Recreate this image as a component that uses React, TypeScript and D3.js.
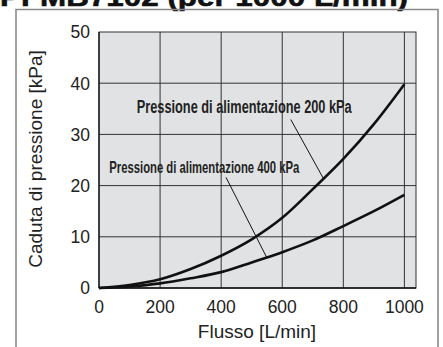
import React from "react";
import * as d3 from "d3";

const flow = [0, 100, 200, 300, 400, 500, 600, 700, 800, 900, 1000];
const drop200 = [0, 0.6, 1.7, 3.7, 6.3, 9.5, 13.7, 19.3, 25.2, 32, 39.8];
const drop400 = [0, 0.3, 0.9, 1.9, 3.1, 5.0, 7.0, 9.3, 12.1, 15, 18.2];
const xTicks = [0, 200, 400, 600, 800, 1000];
const yTicks = [0, 10, 20, 30, 40, 50];
const title = "PFMB7102 (per 1000 L/min)";
const xTitle = "Flusso [L/min]";
const yTitle = "Caduta di pressione [kPa]";
const label200 = "Pressione di alimentazione 200 kPa";
const label400 = "Pressione di alimentazione 400 kPa";

const W = 443;
const H = 347;
const FONT = "'Liberation Sans', Arial, Helvetica, sans-serif";

export default function App() {
  const x = d3.scaleLinear().domain([0, 1038]).range([99, 416]);
  const y = d3.scaleLinear().domain([0, 50]).range([288, 32]);
  const line = d3
    .line<number>()
    .x((_, i) => x(flow[i]))
    .y((d) => y(d))
    .curve(d3.curveMonotoneX);

  const interp = (arr: number[], f: number) => {
    const i = Math.min(Math.floor(f / 100), flow.length - 2);
    const t = (f - flow[i]) / 100;
    return arr[i] + (arr[i + 1] - arr[i]) * t;
  };

  return (
    <svg
      width={W}
      height={H}
      style={{ position: "absolute", left: 0, top: 0, background: "#fff" }}
    >
      <text
        x={0}
        y={6}
        fontFamily={FONT}
        fontWeight="bold"
        fontSize={26}
        textLength={408}
        lengthAdjust="spacingAndGlyphs"
        fill="#111"
        stroke="#111"
        strokeWidth={0.6}
      >
        {title}
      </text>
      <path
        d={`M16,${H} V9.5 H438 V${H}`}
        fill="none"
        stroke="#8a8a8a"
        strokeWidth={1.6}
      />
      <rect
        x={x(0)}
        y={y(50)}
        width={x(1038) - x(0)}
        height={y(0) - y(50)}
        fill="#e1e2e4"
      />
      {xTicks.slice(1).map((t) => (
        <line
          key={"gx" + t}
          x1={x(t)}
          x2={x(t)}
          y1={y(0)}
          y2={y(50)}
          stroke="#333"
          strokeWidth={1}
        />
      ))}
      {yTicks.slice(1, -1).map((t) => (
        <line
          key={"gy" + t}
          x1={x(0)}
          x2={x(1038)}
          y1={y(t)}
          y2={y(t)}
          stroke="#333"
          strokeWidth={1}
        />
      ))}
      <rect
        x={x(0)}
        y={y(50)}
        width={x(1038) - x(0)}
        height={y(0) - y(50)}
        fill="none"
        stroke="#333"
        strokeWidth={1}
      />
      <line x1={x(0)} x2={x(1038)} y1={y(0)} y2={y(0)} stroke="#111" strokeWidth={1.5} />
      <line x1={x(0)} x2={x(0)} y1={y(0)} y2={y(50)} stroke="#111" strokeWidth={1.3} />

      <path d={line(drop200) || ""} fill="none" stroke="#111" strokeWidth={2.6} />
      <path d={line(drop400) || ""} fill="none" stroke="#111" strokeWidth={2.6} />

      <line
        x1={x(628)}
        y1={y(32.9)}
        x2={x(735)}
        y2={y(interp(drop200, 735))}
        stroke="#111"
        strokeWidth={1}
      />
      <line
        x1={x(416)}
        y1={y(21.6)}
        x2={x(549)}
        y2={y(interp(drop400, 549))}
        stroke="#111"
        strokeWidth={1}
      />
      <text
        x={x(123.5)}
        y={y(34.2)}
        fontFamily={FONT}
        fontWeight="bold"
        fontSize={18}
        textLength={215}
        lengthAdjust="spacingAndGlyphs"
        fill="#222"
      >
        {label200}
      </text>
      <text
        x={x(33.7)}
        y={y(22.5)}
        fontFamily={FONT}
        fontWeight="bold"
        fontSize={17}
        textLength={190}
        lengthAdjust="spacingAndGlyphs"
        fill="#222"
      >
        {label400}
      </text>

      {yTicks.map((t) => (
        <text
          key={"ty" + t}
          x={90}
          y={y(t)}
          dy="0.36em"
          textAnchor="end"
          fontFamily={FONT}
          fontSize={17.5}
          fill="#222"
        >
          {t}
        </text>
      ))}
      {xTicks.map((t) => (
        <text
          key={"tx" + t}
          x={x(t)}
          y={313}
          textAnchor="middle"
          fontFamily={FONT}
          fontSize={17.5}
          fill="#222"
        >
          {t}
        </text>
      ))}
      <text
        x={257}
        y={338}
        textAnchor="middle"
        fontFamily={FONT}
        fontSize={19}
        fill="#222"
      >
        {xTitle}
      </text>
      <text
        transform={`translate(42,159) rotate(-90)`}
        textAnchor="middle"
        fontFamily={FONT}
        fontSize={19}
        fill="#222"
      >
        {yTitle}
      </text>
    </svg>
  );
}
